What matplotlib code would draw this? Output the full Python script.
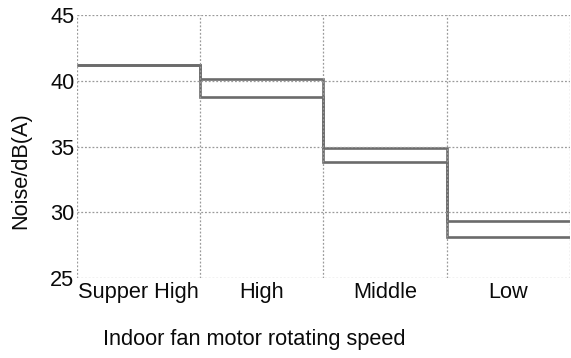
import matplotlib.pyplot as plt
import numpy as np

plt.rcParams['font.family'] = ['Liberation Sans', 'DejaVu Sans']

# fan speed bands and measured noise levels
speeds = ['Supper High', 'High', 'Middle', 'Low']
noise_a = [41.2, 40.1, 34.9, 29.3]
noise_b = [41.2, 38.8, 33.8, 28.1]
yticks = [25, 30, 35, 40, 45]

edges = np.arange(len(speeds) + 1)
centers = edges[:-1] + 0.5

fig = plt.figure(figsize=(5.71, 3.58), dpi=100)
ax = fig.add_axes([0.135, 0.2235, 0.863, 0.7345])

line_col = '#6b6b6b'
ax.stairs(noise_a, edges, baseline=None, color=line_col, linewidth=1.9)
ax.stairs(noise_b, edges, baseline=None, color=line_col, linewidth=1.9)

ax.set_xlim(edges[0], edges[-1])
ax.set_ylim(25, 45)
ax.set_yticks(yticks)
ax.set_xticks(edges)
ax.set_xticklabels([])
ax.set_xticks(centers, minor=True)
ax.set_xticklabels(speeds, minor=True)
ax.tick_params(axis='both', which='both', length=0, labelsize=15.7, colors='#0a0a0a')
ax.tick_params(axis='x', which='minor', pad=3)
ax.tick_params(axis='y', pad=2)

ax.grid(True, which='major', linestyle=(0, (1.5, 1.5)), color='#9a9a9a', linewidth=0.9)
for s in ax.spines.values():
    s.set_visible(False)

fig.text(254 / 571, 1 - 340 / 358, 'Indoor fan motor rotating speed',
         ha='center', va='center', fontsize=15.7, color='#0a0a0a')
fig.text(21 / 571, 1 - 171 / 358, 'Noise/dB(A)', rotation=90,
         ha='center', va='center', fontsize=15.7, color='#0a0a0a')

fig.savefig('out.png', dpi=100)
